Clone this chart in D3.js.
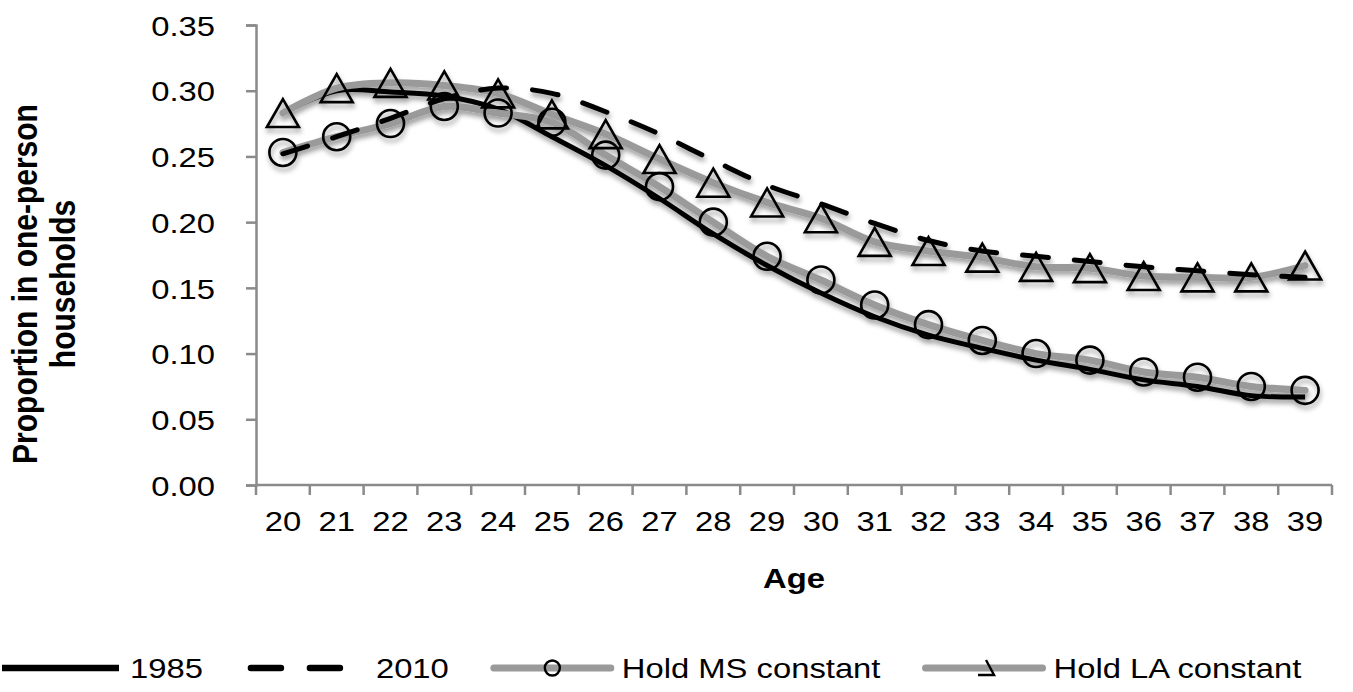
<!DOCTYPE html>
<html>
<head>
<meta charset="utf-8">
<script src="https://cdn.jsdelivr.net/npm/d3@7"></script>
<style>
  html, body { margin: 0; padding: 0; background: #fff; }
  svg text { font-family: "Liberation Sans", Arial, sans-serif; fill: #000; }
</style>
</head>
<body>
<svg id="chart" width="1353" height="692"></svg>
<script>
// Proportion of young adults living in one-person households, by age
const ages = ["20","21","22","23","24","25","26","27","28","29","30","31","32","33","34","35","36","37","38","39"];
const y1985 = [0.283,0.300,0.299,0.296,0.286,0.265,0.243,0.218,0.191,0.167,0.146,0.128,0.114,0.104,0.095,0.088,0.080,0.075,0.068,0.067];
const y2010 = [0.252,0.265,0.279,0.294,0.302,0.298,0.284,0.267,0.247,0.228,0.214,0.199,0.186,0.178,0.174,0.170,0.166,0.163,0.160,0.158];
const holdMS = [0.253,0.265,0.275,0.288,0.283,0.276,0.251,0.227,0.200,0.174,0.156,0.137,0.122,0.110,0.100,0.095,0.086,0.082,0.075,0.072];
const holdLA = [0.283,0.302,0.306,0.304,0.298,0.282,0.267,0.248,0.230,0.215,0.203,0.185,0.178,0.173,0.166,0.165,0.159,0.158,0.158,0.167];
const yTicks = [0,0.05,0.10,0.15,0.20,0.25,0.30,0.35];
const legendLabels = ["1985","2010","Hold MS constant","Hold LA constant"];

const FONT = 28.5;     // glyph height
const SX = 1.15;       // text is set slightly wide
const GRAY = "#9a9a9a";
const AXIS = "#8a8a8a";

const svg = d3.select("#chart");
const defs = svg.append("defs");
const shadow = defs.append("filter").attr("id","shadow")
  .attr("x","-20%").attr("y","-20%").attr("width","140%").attr("height","160%");
shadow.append("feDropShadow").attr("dx",1).attr("dy",4).attr("stdDeviation",2.4)
  .attr("flood-color","#000").attr("flood-opacity",0.38);

const plotLeft = 256, plotRight = 1332, plotTop = 25, plotBottom = 485;

const x = d3.scaleBand().domain(ages).range([plotLeft, plotRight]).paddingInner(0).paddingOuter(0);
const y = d3.scaleLinear().domain([0, 0.35]).range([plotBottom, plotTop]);
const cx = a => x(a) + x.bandwidth() / 2;

// place a text at (tx, ty) with the wide setting
function widen(sel) {
  sel.each(function() {
    const t = d3.select(this);
    const tx = +t.attr("x") || 0, ty = +t.attr("y") || 0;
    t.attr("x", 0).attr("y", 0).attr("transform", `translate(${tx},${ty}) scale(${SX},1)`);
  });
}

// Y axis
const yAxis = svg.append("g").attr("transform", `translate(${plotLeft},0)`)
  .call(d3.axisLeft(y).tickValues(yTicks).tickFormat(d3.format(".2f")).tickSize(10).tickPadding(31));
// X axis: ticks sit on the band boundaries
const xAxis = svg.append("g").attr("transform", `translate(0,${plotBottom})`)
  .call(d3.axisBottom(x).tickSize(0).tickPadding(26));
const bounds = ages.map(a => x(a)).concat([plotRight]);
xAxis.selectAll(".bound").data(bounds).join("line").attr("class","bound")
  .attr("x1", d => d).attr("x2", d => d).attr("y1", 0).attr("y2", 10);

[yAxis, xAxis].forEach(g => {
  g.select(".domain").attr("stroke", AXIS).attr("stroke-width", 2.5);
  g.selectAll("line").attr("stroke", AXIS).attr("stroke-width", 2.5);
  g.selectAll("text").attr("font-size", FONT).attr("font-family", "Liberation Sans, Arial, sans-serif").attr("fill","#000");
});
xAxis.select(".domain").attr("d", `M${plotLeft},0H${plotRight}`);
yAxis.selectAll(".tick text").attr("dy", "0.36em");
widen(yAxis.selectAll(".tick text"));
widen(xAxis.selectAll(".tick text"));

// Axis titles
svg.append("text").attr("x", (plotLeft + plotRight) / 2).attr("y", 588)
  .attr("text-anchor","middle").attr("font-size", FONT).attr("font-weight","bold").text("Age")
  .call(widen);
const yt = svg.append("text").attr("transform", `translate(37,284) scale(${SX},1) rotate(-90)`)
  .attr("text-anchor","middle").attr("font-size", 30).attr("font-weight","bold");
yt.append("tspan").attr("x",0).attr("y",0).text("Proportion in one-person");
yt.append("tspan").attr("x",0).attr("y",33).text("households");

// Series
const line = d3.line().x((d,i) => cx(ages[i])).y(d => y(d)).curve(d3.curveCatmullRom.alpha(0.5));
const plot = svg.append("g").attr("filter","url(#shadow)");

plot.append("path").attr("d", line(y1985)).attr("fill","none").attr("stroke","#000").attr("stroke-width",5);
plot.append("path").attr("d", line(holdMS)).attr("fill","none").attr("stroke",GRAY).attr("stroke-width",7).attr("stroke-linecap","round");
plot.append("path").attr("d", line(holdLA)).attr("fill","none").attr("stroke",GRAY).attr("stroke-width",7).attr("stroke-linecap","round");
plot.append("path").attr("d", line(y2010)).attr("fill","none").attr("stroke","#000").attr("stroke-width",5)
  .attr("stroke-dasharray","26,26").attr("stroke-linecap","round");

const triPath = (w, h) => `M0,${-h/2}L${w/2},${h/2}L${-w/2},${h/2}Z`;

plot.selectAll(".ms").data(holdMS).join("circle").attr("class","ms")
  .attr("cx", (d,i) => cx(ages[i])).attr("cy", d => y(d)).attr("r", 13.5)
  .attr("fill","none").attr("stroke","#000").attr("stroke-width",2.6);
plot.selectAll(".la").data(holdLA).join("path").attr("class","la")
  .attr("transform", (d,i) => `translate(${cx(ages[i])},${y(d)})`)
  .attr("d", triPath(32, 28)).attr("fill","none").attr("stroke","#000").attr("stroke-width",2.6).attr("stroke-linejoin","miter");

// Legend
const ly = 668;
const leg = svg.append("g");
const symW = 117, gapIn = 11, gapOut = 45;
let lx = 2;
legendLabels.forEach((lab, i) => {
  const g = leg.append("g");
  if (i === 0) {
    g.append("line").attr("x1", lx).attr("x2", lx + symW).attr("y1", ly).attr("y2", ly)
      .attr("stroke","#000").attr("stroke-width",6.5);
  } else if (i === 1) {
    g.append("line").attr("x1", lx + 3).attr("x2", lx + symW).attr("y1", ly).attr("y2", ly)
      .attr("stroke","#000").attr("stroke-width",6.5).attr("stroke-dasharray","30,29").attr("stroke-linecap","round");
  } else {
    g.append("line").attr("x1", lx).attr("x2", lx + symW).attr("y1", ly).attr("y2", ly)
      .attr("stroke",GRAY).attr("stroke-width",7).attr("stroke-linecap","round");
    if (i === 2) {
      g.append("circle").attr("cx", lx + symW / 2).attr("cy", ly).attr("r", 7.5)
        .attr("fill","none").attr("stroke","#000").attr("stroke-width",2.4);
    } else {
      const m = lx + symW / 2 + 4;
      g.append("path").attr("d", `M${m-2},${ly-8}L${m+6},${ly+7}L${m-10},${ly+7}`)
        .attr("fill","none").attr("stroke","#000").attr("stroke-width",2.4);
    }
  }
  const t = g.append("text").attr("x", lx + symW + gapIn).attr("y", ly).attr("dy","0.36em")
    .attr("font-size", FONT).text(lab);
  const w = t.node().getComputedTextLength() * SX;
  widen(t);
  lx = lx + symW + gapIn + w + gapOut;
});
</script>
</body>
</html>
